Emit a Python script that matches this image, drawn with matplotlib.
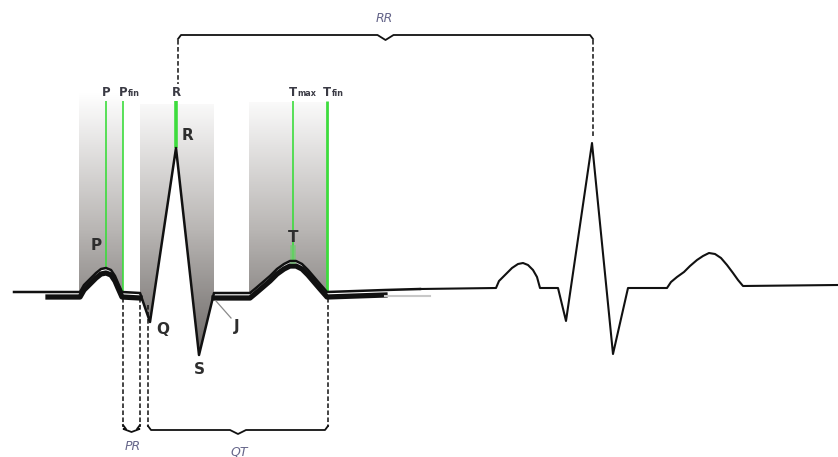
import numpy as np
import matplotlib
matplotlib.use("Agg")
import matplotlib.pyplot as plt
from matplotlib.path import Path
from matplotlib.patches import PathPatch
from matplotlib.colors import LinearSegmentedColormap
import matplotlib.transforms as mtransforms

# ---- data (pixel-space diagram coordinates) ----
beat1_x = [14, 48, 80, 84, 90, 96, 101, 106, 111, 115, 118, 122, 140, 150, 176, 199, 214,
           250, 256, 263, 270, 277, 284, 290, 296, 302, 308, 314, 320, 327, 385, 420]
beat1_y = [292, 292, 292, 285, 279, 273, 269, 268, 270, 276, 283, 292, 293, 322, 148, 355, 293,
           293, 288, 282, 276, 269, 264, 261, 261, 264, 270, 277, 284, 292, 290, 289]

beat2_x = [420, 496, 499, 505, 512, 518, 523, 528, 533, 537, 540, 558, 566, 592, 613, 628,
           667, 671, 677, 684, 690, 697, 703, 709, 715, 721, 727, 733, 738, 743, 838]
beat2_y = [289, 288, 281, 275, 268, 264, 263, 265, 270, 277, 288, 288, 321, 143, 354, 288,
           288, 282, 277, 272, 266, 260, 256, 253, 254, 258, 265, 273, 280, 286, 285]

marker_labels = ["P", "P", "R", "T", "T"]
marker_subs = ["", "fin", "", "max", "fin"]
marker_x = [106, 123, 176, 293, 327]
marker_y_end = [268, 293, 148, 261, 292]

wave_labels = ["P", "R", "T", "Q", "S", "J"]
interval_labels = ["RR", "PR", "QT"]

W, H = 838, 457
fig = plt.figure(figsize=(W / 100, H / 100), dpi=100)
ax = fig.add_axes([0, 0, 1, 1])
ax.set_xlim(0, W)
ax.set_ylim(H, 0)
ax.axis("off")

bx = np.array(beat1_x, float)
by = np.array(beat1_y, float)

# ---- gradient shaded regions above the waveform ----
rects = [(79, 123, 86), (140, 214, 104), (249, 327, 102)]
verts, codes = [], []
for x0, x1, top in rects:
    m = (bx > x0) & (bx < x1)
    xs = [x0] + list(bx[m]) + [x1]
    ys = [np.interp(x0, bx, by)] + list(by[m]) + [np.interp(x1, bx, by)]
    poly = [(x0, top), (x1, top)] + list(zip(xs[::-1], ys[::-1])) + [(x0, top)]
    verts += poly
    codes += [Path.MOVETO] + [Path.LINETO] * (len(poly) - 2) + [Path.CLOSEPOLY]
clip = PathPatch(Path(verts, codes), transform=ax.transData, facecolor="none", edgecolor="none")
ax.add_patch(clip)
rows = np.arange(H)
grad = np.clip((rows - 92) / 270.0, 0, 1)[:, None]
cmap = LinearSegmentedColormap.from_list("g", ["#ffffff", "#bab7b5", "#686462"])
im = ax.imshow(grad, extent=(0, W, H, 0), cmap=cmap, aspect="auto", vmin=0, vmax=1,
               interpolation="bilinear", zorder=1)
im.set_clip_path(clip)

# ---- green marker lines ----
green = "#3ddc3d"
widths = [1.2, 1.2, 2.6, 1.2, 2.0]
for x, ye, lw in zip(marker_x, marker_y_end, widths):
    ax.plot([x, x], [101, ye], color=green, lw=lw, zorder=3, solid_capstyle="butt")
ax.plot([293, 293], [248, 261], color="#6ccf6c", lw=4, zorder=3, alpha=0.7)

# top labels
for lab, sub, x in zip(marker_labels, marker_subs, marker_x):
    ax.text(x, 92, lab, ha="center", va="center", fontsize=8.5, fontweight="bold",
            color="#3a3a44", zorder=5)
    if sub:
        ax.text(x + 4.5, 93.5, sub, ha="left", va="center", fontsize=5.8,
                fontweight="bold", color="#3a3a44", zorder=5)

# ---- shadow stroke under first beat ----
shadow_tr = mtransforms.offset_copy(ax.transData, fig=fig, x=0, y=-5, units="dots")
for lo, hi in [(48, 140), (214, 385)]:
    m = (bx >= lo) & (bx <= hi)
    ax.plot(bx[m], by[m], color="#111111", lw=3.8, transform=shadow_tr, zorder=2,
            solid_joinstyle="round")
ax.plot([385, 430], [291, 291], color="#c8c8c8", lw=1.5, transform=shadow_tr, zorder=2)

# ---- waveforms ----
ax.plot(beat1_x, beat1_y, color="#111111", lw=1.8, zorder=4, solid_joinstyle="round")
ax.plot(beat2_x, beat2_y, color="#111111", lw=1.5, zorder=4, solid_joinstyle="round")

# waveform point labels
wl_pos = [(96, 246), (187, 136), (293, 238), (163, 330), (199, 370), (237, 326)]
for lab, (x, y) in zip(wave_labels, wl_pos):
    ax.text(x, y, lab, ha="center", va="center", fontsize=11, fontweight="bold",
            color="#2e2e2e", zorder=5)
ax.plot([231, 216], [318, 301], color="#8a8a8a", lw=0.9, zorder=4)

# ---- dashed guides ----
dash = dict(color="#111111", lw=1.1, ls=(0, (3, 1.6)), zorder=4)
ax.plot([178, 178], [40, 84], **dash)
ax.plot([593, 593], [40, 137], **dash)
ax.plot([123, 123], [298, 427], **dash)
ax.plot([140, 140], [298, 427], **dash)
ax.plot([148, 148], [305, 427], **dash)
ax.plot([328, 328], [298, 427], **dash)

def brace(x0, x1, y, d, tip):
    xm = (x0 + x1) / 2
    xs = [x0, x0 + 3, xm - 8, xm, xm + 8, x1 - 3, x1]
    ys = [y - d * 4, y, y, y + d * tip, y, y, y - d * 4]
    ax.plot(xs, ys, color="#111111", lw=1.3, zorder=4, solid_joinstyle="round")

brace(178, 593, 35, -1, -5)
brace(123, 140, 429, 1, 3)
brace(148, 328, 430, 1, 4)

ilab_pos = [(384, 18), (133, 447), (239, 452)]
for lab, (x, y) in zip(interval_labels, ilab_pos):
    ax.text(x, y, lab, ha="center", va="center", fontsize=9, style="italic",
            color="#66668a", zorder=5)

fig.savefig("out.png", dpi=100)
